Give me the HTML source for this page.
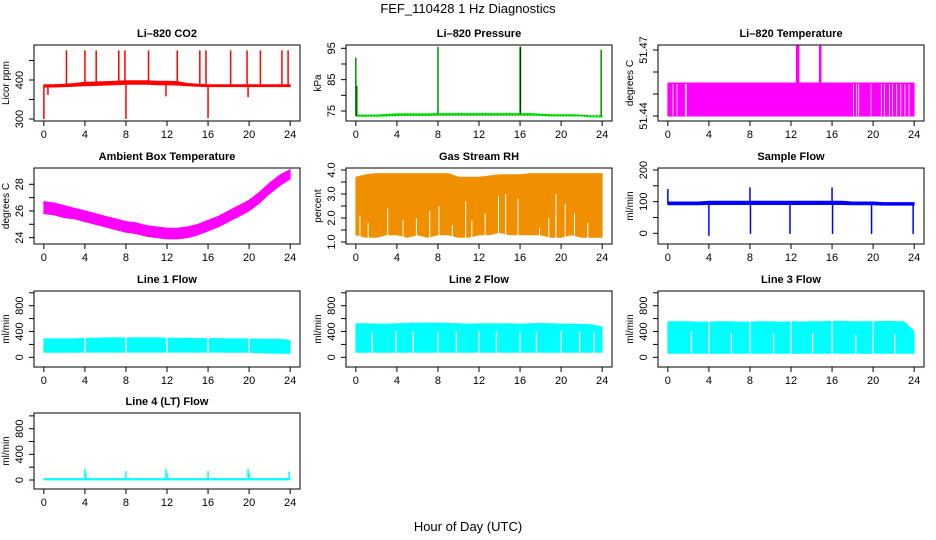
<!DOCTYPE html>
<html><head><meta charset="utf-8"><style>
html,body{margin:0;padding:0;background:#fff;}
svg{display:block;font-family:"Liberation Sans",sans-serif;}
</style></head><body>
<svg id="chart" width="936" height="540" viewBox="0 0 936 540">
<rect x="0" y="0" width="936" height="540" fill="#fff"/>
<text x="468" y="13" font-size="13" text-anchor="middle">FEF_110428  1 Hz Diagnostics</text>
<text x="468" y="531" font-size="13" text-anchor="middle">Hour of Day (UTC)</text>
</svg>
<script>
// ---- data ----
const hours = [0,1,2,3,4,5,6,7,8,9,10,11,12,13,14,15,16,17,18,19,20,21,22,23,24];
const xTicks = [0,4,8,12,16,20,24];

const co2Lo = [382,382,383,384,385,386,387,388,389,389,389,388,388,387,385,384,383,383,383,383,383,383,383,383,383];
const co2Hi = [388,388,389,391,394,395,396,397,398,398,398,397,397,396,391,389,388,388,388,388,388,388,388,388,388];
const co2SpikeH = [0.0,0.4,2.2,4.0,5.1,7.3,7.9,8.0,10.2,11.9,13.0,15.2,15.8,16.0,18.2,19.8,19.9,21.1,23.2,23.8];
const co2SpikeV = [300,362,476,476,476,476,476,300,476,358,476,476,476,302,476,476,356,476,476,476];

const presLo = [73.3,73.3,73.3,73.4,73.6,73.6,73.6,73.6,73.7,73.7,73.7,73.7,73.7,73.7,73.7,73.7,73.7,73.7,73.6,73.4,73.4,73.4,73.4,73.1,73.1];
const presHi = [73.7,73.7,73.7,73.9,74.1,74.1,74.1,74.1,74.2,74.2,74.2,74.2,74.2,74.2,74.2,74.2,74.2,74.2,74.0,73.8,73.8,73.8,73.7,73.4,73.4];
const presSpikeH = [0.0,0.1,8.0,16.0,16.05,23.9];
const presSpikeV = [92,83,95.5,95.5,95.5,94.5];

const tempLo = [51.44,51.44,51.44,51.44,51.44,51.44,51.44,51.44,51.44,51.44,51.44,51.44,51.44,51.44,51.44,51.44,51.44,51.44,51.44,51.44,51.44,51.44,51.44,51.44,51.44];
const tempHi = [51.455,51.455,51.455,51.455,51.455,51.455,51.455,51.455,51.455,51.455,51.455,51.455,51.455,51.455,51.455,51.455,51.455,51.455,51.455,51.455,51.455,51.455,51.455,51.455,51.455];
const tempSpikeH = [12.55,12.65,12.75,14.8,14.9];
const tempSpikeV = [51.472,51.472,51.472,51.472,51.472];
const tempGapH = [0.5,0.9,1.7,1.8,18.1,18.4,18.6,19.8,20.8,21.1,21.6,21.9,22.3,22.7,23.1,23.5];

const ambLo = [25.8,25.7,25.5,25.4,25.2,25.0,24.8,24.6,24.4,24.3,24.1,24.0,23.9,23.9,24.0,24.2,24.5,24.8,25.2,25.6,26.0,26.6,27.3,27.9,28.4];
const ambHi = [26.7,26.6,26.4,26.2,26.0,25.8,25.6,25.4,25.2,25.1,24.9,24.8,24.7,24.7,24.8,25.0,25.3,25.6,26.0,26.4,26.8,27.4,28.1,28.7,29.1];

const rhLo = [1.3,1.2,1.2,1.3,1.3,1.2,1.3,1.2,1.3,1.3,1.2,1.2,1.3,1.3,1.4,1.3,1.3,1.3,1.3,1.2,1.2,1.3,1.2,1.2,1.2];
const rhHi = [3.7,3.8,3.85,3.85,3.85,3.85,3.85,3.85,3.85,3.85,3.7,3.7,3.7,3.75,3.8,3.8,3.8,3.85,3.85,3.85,3.85,3.85,3.85,3.85,3.85];
const rhGapH = [0.4,1.2,3.1,4.6,5.9,7.2,8.1,9.4,10.7,11.3,12.6,13.9,14.6,15.8,17.9,18.8,19.5,20.4,21.3,22.6];
const rhGapTop = [2.1,1.8,2.4,1.9,2.0,2.3,2.5,1.7,2.7,1.9,2.2,2.9,3.0,2.8,1.6,2.0,3.0,2.6,2.2,1.8];

const sfLo = [90,90,90,90,91,91,91,91,91,91,91,91,91,91,91,91,91,91,90,90,90,89,89,89,89];
const sfHi = [99,99,99,99,101,101,101,101,101,101,101,101,101,101,101,101,101,101,99,99,99,97,97,97,97];
const sfSpikeH = [0.0,4.0,8.0,8.05,11.9,16.0,16.05,19.85,23.9];
const sfSpikeV = [140,-8,145,-2,-2,145,-2,-2,-2];

const l1Lo = [78,78,78,78,80,80,80,80,80,80,80,80,80,80,80,80,80,80,78,78,78,70,65,62,62];
const l1Hi = [285,285,285,285,295,295,300,300,300,300,300,300,295,295,295,290,290,290,285,285,285,280,280,280,260];
const l1GapH = [4.0,8.0,12.0,16.0,20.0];
const l1GapTop = [320,320,320,320,320];

const l2Lo = [78,78,78,78,78,78,78,78,78,78,78,78,78,78,78,78,78,78,78,78,78,78,78,78,78];
const l2Hi = [520,520,515,515,520,525,530,530,530,525,520,515,520,520,520,520,515,520,525,520,515,515,510,505,470];
const l2GapH = [1.6,3.9,5.6,8.0,9.8,12.0,13.7,16.0,17.6,20.0,21.8,23.2];
const l2GapTop = [390,420,400,390,400,410,400,395,400,410,400,390];

const l3Lo = [62,62,62,62,62,62,62,62,62,62,62,62,62,62,62,62,62,62,62,62,62,62,62,62,62];
const l3Hi = [550,550,550,545,545,550,550,545,545,550,550,545,550,545,550,550,560,555,550,550,550,555,555,550,400];
const l3GapH = [4.0,8.0,12.0,16.0,20.0,2.3,6.2,10.3,14.1,18.3,22.1];
const l3GapTop = [600,600,600,600,600,400,380,370,380,350,360];

const l4Lo = [2,2,2,2,2,2,2,2,2,2,2,2,2,2,2,2,2,2,2,2,2,2,2,2,2];
const l4Hi = [22,22,22,22,22,22,22,22,22,22,22,22,22,22,22,22,22,22,22,22,22,22,22,22,22];
const l4SpikeH = [4.0,4.1,8.0,11.9,12.0,16.0,19.9,20.0,23.9];
const l4SpikeV = [175,110,140,175,110,140,175,110,130];

// ---- layout ----
const NS = 'http://www.w3.org/2000/svg';
const svg = document.getElementById('chart');
function mk(tag, attrs, parent){const e=document.createElementNS(NS,tag);for(const k in attrs)e.setAttribute(k,attrs[k]);(parent||svg).appendChild(e);return e;}

function makePanel(cfg){
  const g = mk('g',{});
  
  
  const p = {x0:cfg.x, x1:cfg.x+266, y0:cfg.y, y1:cfg.y+76, g:g};
  p.sx = h => p.x0 + (h+0.96)/25.92*266;
  p.sy = v => cfg.pa + (v-cfg.va)*(cfg.pb-cfg.pa)/(cfg.vb-cfg.va);
  const t = mk('text',{x:(p.x0+p.x1)/2,y:p.y0-8,'font-size':11,'font-weight':'bold','text-anchor':'middle'},g);
  t.textContent = cfg.title;
  
  
  xTicks.forEach(h=>{
    const X=p.sx(h);
    mk('line',{x1:X,x2:X,y1:p.y1,y2:p.y1+5,stroke:'#000'},g);
    if(cfg.xlabels){
      const tl=mk('text',{x:X,y:p.y1+17,'font-size':11,'text-anchor':'middle'},g);
      tl.textContent=h;
      
      
    }
  });
  mk('line',{x1:p.sx(0),x2:p.sx(24),y1:p.y1,y2:p.y1,stroke:'#000'},g);
  cfg.yTicks.forEach(v=>{
    const Y=p.sy(v);
    mk('line',{x1:p.x0-5,x2:p.x0,y1:Y,y2:Y,stroke:'#000'},g);
  });
  mk('line',{x1:p.x0,x2:p.x0,y1:p.sy(cfg.yTicks[0]),y2:p.sy(cfg.yTicks[cfg.yTicks.length-1]),stroke:'#000'},g);
  cfg.yLabels.forEach(v=>{
    const Y=p.sy(v), X=p.x0-11;
    const tl=mk('text',{x:X,y:Y,'font-size':11,'text-anchor':'middle',transform:`rotate(-90 ${X} ${Y})`},g);
    tl.textContent=v;
    
    
  });
  const yl = mk('text',{x:p.x0-25,y:(p.y0+p.y1)/2,'font-size':10,'text-anchor':'middle',transform:`rotate(-90 ${p.x0-25} ${(p.y0+p.y1)/2})`},g);
  yl.textContent = cfg.ylab;
  
  
  p.marks = mk('g',{},g);
  const box = mk('rect',{x:p.x0,y:p.y0,width:266,height:76,fill:'none',stroke:'#000','stroke-width':1},g);
  
  
  return p;
}
function band(p, lo, hi, color, name){
  let d='M'+hours.map((h,i)=>p.sx(h).toFixed(1)+','+p.sy(hi[i]).toFixed(1)).join('L');
  for(let i=hours.length-1;i>=0;i--) d+='L'+p.sx(hours[i]).toFixed(1)+','+p.sy(lo[i]).toFixed(1);
  const e=mk('path',{d:d+'Z',fill:color,stroke:color,'stroke-width':1},p.marks);
  
  
  return e;
}
function interp(arr,h){const i=Math.min(23,Math.floor(h));const f=h-i;return arr[i]*(1-f)+arr[i+1]*f;}
function spikes(p, hs, vs, lo, hi, color, w, name){
  hs.forEach((h,i)=>{
    const base=(interp(lo,h)+interp(hi,h))/2;
    const e=mk('line',{x1:p.sx(h),x2:p.sx(h),y1:p.sy(base),y2:p.sy(vs[i]),stroke:color,'stroke-width':w},p.marks);
    
    
  });
}
function gaps(p, hs, tops, bottom, w, name){
  hs.forEach((h,i)=>{
    const e=mk('line',{x1:p.sx(h),x2:p.sx(h),y1:p.sy(bottom)+1,y2:p.sy(tops[i]),stroke:'#fff','stroke-width':w},p.marks);
    
    
  });
}

const XC=[34,346,658], YR=[45,168,291,413];

let p=makePanel({name:'panel-co2',title:'Li\u2013820 CO2',ylab:'Licor ppm',x:XC[0],y:YR[0],va:300,pa:119,vb:400,pb:80,yTicks:[300,350,400,450],yLabels:[300,400],xlabels:true});
band(p,co2Lo,co2Hi,'#ff0000','co2-series');
spikes(p,co2SpikeH,co2SpikeV,co2Lo,co2Hi,'#ff0000',1.5,'co2-spike');

p=makePanel({name:'panel-pressure',title:'Li\u2013820 Pressure',ylab:'kPa',x:XC[1],y:YR[0],va:75,pa:111,vb:95,pb:48.3,yTicks:[75,80,85,90,95],yLabels:[75,85,95],xlabels:true});
band(p,presLo,presHi,'#00ee00','pressure-series');
spikes(p,presSpikeH,presSpikeV,presLo,presHi,'#00ee00',1.5,'pressure-spike');
spikes(p,presSpikeH,presSpikeV,presLo,presHi,'#000',0.6,'pressure-spike-dots');
{const e=mk('line',{x1:p.sx(0),x2:p.sx(24),y1:p.sy(73.7),y2:p.sy(73.7),stroke:'#000','stroke-width':0.6,'stroke-dasharray':'1 2'},p.marks);

}

p=makePanel({name:'panel-li820-temperature',title:'Li\u2013820 Temperature',ylab:'degrees C',x:XC[2],y:YR[0],va:51.44,pa:116,vb:51.47,pb:50,yTicks:[51.44,51.45,51.46,51.47],yLabels:[51.44,51.47],xlabels:true});
band(p,tempLo,tempHi,'#ff00ff','temperature-series');
gaps(p,tempGapH,tempGapH.map(()=>51.4545),51.4405,0.8,'temperature-gap');
spikes(p,tempSpikeH,tempSpikeV,tempLo,tempHi,'#ff00ff',1.5,'temperature-spike');

p=makePanel({name:'panel-ambient-temperature',title:'Ambient Box Temperature',ylab:'degrees C',x:XC[0],y:YR[1],va:24,pa:237.6,vb:28,pb:184.3,yTicks:[24,25,26,27,28],yLabels:[24,26,28],xlabels:true});
band(p,ambLo,ambHi,'#ff00ff','ambient-series');

p=makePanel({name:'panel-gas-rh',title:'Gas Stream RH',ylab:'percent',x:XC[1],y:YR[1],va:1,pa:242,vb:4,pb:170,yTicks:[1,1.5,2,2.5,3,3.5,4],yLabels:['1.0','2.0','3.0','4.0'],xlabels:true});
band(p,rhLo,rhHi,'#f09000','rh-series');
gaps(p,rhGapH,rhGapTop,1.15,1,'rh-gap');

p=makePanel({name:'panel-sample-flow',title:'Sample Flow',ylab:'ml/min',x:XC[2],y:YR[1],va:0,pa:233.3,vb:200,pb:170,yTicks:[0,50,100,150,200],yLabels:[0,100,200],xlabels:true});
band(p,sfLo,sfHi,'#0000ff','sample-flow-series');
spikes(p,sfSpikeH,sfSpikeV,sfLo,sfHi,'#0000ff',1.5,'sample-flow-spike');

const flowTicks=[0,200,400,600,800,1000], flowLabels=[0,400,800];
p=makePanel({name:'panel-line1-flow',title:'Line 1 Flow',ylab:'ml/min',x:XC[0],y:YR[2],va:0,pa:357.3,vb:800,pb:305.7,yTicks:flowTicks,yLabels:flowLabels,xlabels:true});
band(p,l1Lo,l1Hi,'#00ffff','line1-series');
gaps(p,l1GapH,l1GapTop,40,1.5,'line1-gap');
p=makePanel({name:'panel-line2-flow',title:'Line 2 Flow',ylab:'ml/min',x:XC[1],y:YR[2],va:0,pa:357.3,vb:800,pb:305.7,yTicks:flowTicks,yLabels:flowLabels,xlabels:true});
band(p,l2Lo,l2Hi,'#00ffff','line2-series');
gaps(p,l2GapH,l2GapTop,70,1.3,'line2-gap');
p=makePanel({name:'panel-line3-flow',title:'Line 3 Flow',ylab:'ml/min',x:XC[2],y:YR[2],va:0,pa:357.3,vb:800,pb:305.7,yTicks:flowTicks,yLabels:flowLabels,xlabels:true});
band(p,l3Lo,l3Hi,'#00ffff','line3-series');
gaps(p,l3GapH,l3GapTop,55,1.3,'line3-gap');
p=makePanel({name:'panel-line4-flow',title:'Line 4 (LT) Flow',ylab:'ml/min',x:XC[0],y:YR[3],va:0,pa:480,vb:800,pb:428.7,yTicks:flowTicks,yLabels:flowLabels,xlabels:true});
band(p,l4Lo,l4Hi,'#00ffff','line4-series');
spikes(p,l4SpikeH,l4SpikeV,l4Lo,l4Hi,'#00ffff',1.5,'line4-spike');
</script>
</body></html>
